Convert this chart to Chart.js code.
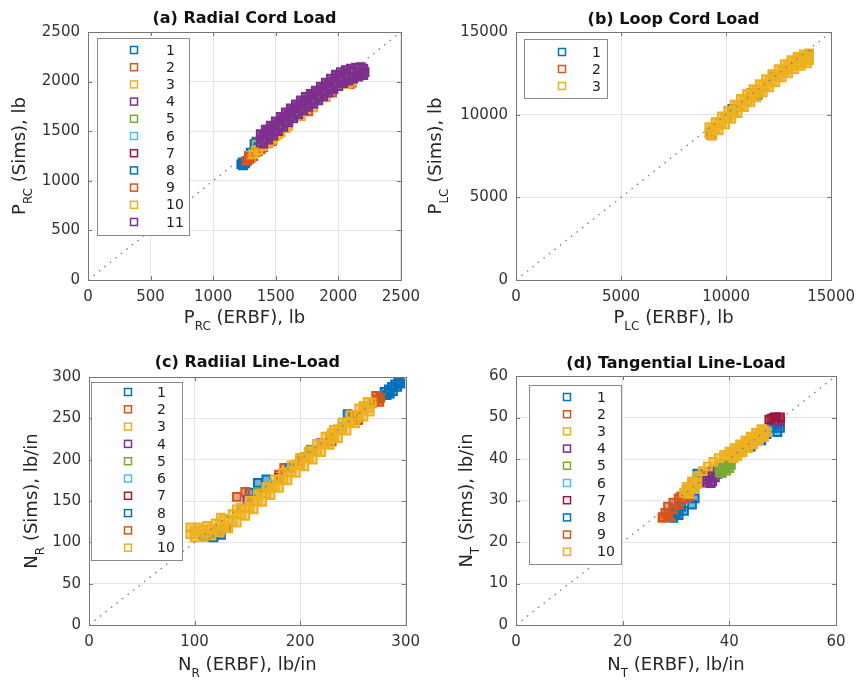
<!DOCTYPE html>
<html>
<head>
<meta charset="utf-8">
<script src="https://cdn.jsdelivr.net/npm/chart.js@4.4.0/dist/chart.umd.min.js"></script>
<style>
  body { margin: 0; background: #fff; }
  #wrap { position: relative; width: 863px; height: 682px; overflow: hidden; }
  canvas { position: absolute; }
</style>
</head>
<body>
<div id="wrap">
  <canvas id="cA" width="428" height="340" style="left:0;top:0"></canvas>
  <canvas id="cB" width="438" height="340" style="left:425px;top:0"></canvas>
  <canvas id="cC" width="428" height="342" style="left:0;top:340px"></canvas>
  <canvas id="cD" width="438" height="342" style="left:425px;top:340px"></canvas>
</div>
<script>
// MATLAB default line colours
var colors = ["#0072BD", "#D95319", "#EDB120", "#7E2F8E", "#77AC30", "#4DBEEE", "#A2142F"];
var fills = ["rgba(0,114,189,0.55)", "rgba(217,83,25,0.55)", "rgba(237,177,32,0.55)", "rgba(126,47,142,0.55)",
             "rgba(119,172,48,0.55)", "rgba(77,190,238,0.55)", "rgba(162,20,47,0.55)"];

// axes: [min, max, step]
var rcAxis = [0, 2500, 500];
var lcAxis = [0, 15000, 5000];
var nrAxis = [0, 300, 50];
var nrXAxis = [0, 300, 100];
var ntAxis = [0, 60, 10];
var ntXAxis = [0, 60, 20];

// (a) Radial cord load, [ERBF, Sims]
var rc1 = [[1225,1165],[1240,1155],[1255,1175],[1235,1185],[1270,1200],[1300,1285],[1330,1370],[1345,1395],[1440,1515]];
var rc2 = [[1265,1200],[1285,1215],[1300,1230],[1320,1250],[1285,1250],[1340,1290],[1360,1300],[1400,1340],[1440,1380],[1470,1400],[2090,1975],[2110,1990]];
var rc3 = [[1300,1250],[1340,1300],[1350,1360],[1380,1330],[1420,1370],[1460,1410],[1500,1450],[1540,1490],[1580,1530],[2080,1985],[2110,2000]];
var rc4 = [[1400,1410],[1600,1630],[1800,1850],[2000,2060]];
var rc5 = [[1500,1510],[1700,1720],[1900,1940]];
var rc6 = [[1450,1470],[1650,1680],[1850,1890]];
var rc7 = [[1550,1580],[1750,1780],[2050,2070]];
var rc8 = [[1360,1340],[1480,1500],[1600,1610]];
var rc9 = [[1290,1240],[1380,1320],[1760,1700],[1950,1890]];
var rc10 = [[1320,1270],[1360,1310],[1400,1350],[1440,1385],[1480,1425],[1520,1470],[1600,1555],[1700,1650],[1800,1740],[1900,1840],[2060,1975]];
var rc11 = [
  [1380,1470],[1420,1515],[1460,1555],[1500,1600],[1540,1645],[1580,1690],[1620,1730],[1660,1770],[1700,1810],[1740,1845],[1780,1875],
  [1820,1910],[1860,1950],[1900,1990],[1940,2030],[1980,2070],[2020,2095],[2060,2115],[2100,2130],[2140,2140],[2180,2145],
  [1400,1455],[1440,1495],[1480,1540],[1520,1580],[1560,1630],[1600,1670],[1640,1710],[1680,1750],[1720,1790],[1760,1820],[1800,1855],
  [1840,1890],[1880,1930],[1920,1970],[1960,2005],[2000,2035],[2040,2060],[2080,2080],[2120,2100],[2160,2115],[2200,2130],
  [1380,1390],[1420,1435],[1460,1475],[1500,1520],[1540,1565],[1580,1610],[1620,1650],[1660,1690],[1700,1730],[1740,1765],[1780,1795],
  [1820,1830],[1860,1870],[1900,1910],[1940,1945],[1980,1980],[2020,2005],[2060,2030],[2100,2055],[2140,2070],[2180,2085],[2210,2095],
  [1400,1375],[1440,1415],[1480,1455],[1520,1500],[1560,1545],[1600,1590],[1640,1630],[1680,1670],[1720,1710],[1760,1745],[1800,1775],
  [1840,1810],[1880,1850],[1920,1890],[1960,1925],[2000,1955],[2040,1985],[2080,2010],[2120,2030],[2160,2050],[2200,2065]
];

// (b) Loop cord load
var lc1 = [[9250,8900],[10300,10350],[11500,11200],[12300,12300],[13950,13650]];
var lc2 = [[9300,8750],[10000,9800],[11200,11300],[12800,12700],[13600,13500]];
var lc3 = [
  [9200,9250],[9500,9550],[9800,9900],[10100,10250],[10400,10600],[10700,10950],[11000,11250],[11300,11550],[11600,11850],
  [11900,12150],[12200,12450],[12500,12750],[12800,13050],[13100,13300],[13400,13500],[13700,13650],[13950,13700],
  [9350,9200],[9650,9520],[9950,9880],[10250,10230],[10550,10580],[10850,10900],[11150,11200],[11450,11500],[11750,11800],
  [12050,12100],[12350,12400],[12650,12700],[12950,12980],[13250,13200],[13550,13380],[13850,13500],
  [9200,8850],[9500,9150],[9800,9500],[10100,9850],[10400,10200],[10700,10550],[11000,10850],[11300,11150],[11600,11450],
  [11900,11750],[12200,12050],[12500,12350],[12800,12650],[13100,12900],[13400,13100],[13700,13250],[13950,13300],
  [9350,8750],[9650,9050],[9950,9400],[10250,9750],[10550,10100],[10850,10450],[11150,10750],[11450,11050],[11750,11350],
  [12050,11650],[12350,11950],[12650,12250],[12950,12500],[13250,12750],[13550,12950],[13850,13100]
];

// (c) Radial line-load
var nr1 = [[280,282],[284,285],[287,288],[290,291],[293,294],[295,292],[292,288],[288,283],[285,280],[294,297],[282,278],
  [160,172],[168,176],[152,160],[110,107],[118,106],[125,109],[245,255]];
var nr2 = [[270,270],[273,273],[276,275],[272,277],[268,268],[275,270],[148,161],[140,155],[205,203],[230,222],[255,248],[185,190],[180,182]];
var nr3 = [[125,130],[140,140],[170,165],[200,200],[230,232],[260,265]];
var nr4 = [[150,150],[220,220]];
var nr5 = [[160,160],[210,212]];
var nr6 = [[170,170],[240,240]];
var nr7 = [[180,178],[250,252]];
var nr8 = [[120,112],[190,190]];
var nr9 = [[130,118],[200,198]];
var nr10 = [
  [96,118],[104,118],[112,120],[120,123],[128,128],[136,134],[144,142],[152,150],[160,158],[168,167],[176,176],
  [184,184],[192,193],[200,202],[208,210],[216,219],[224,228],[232,236],[240,245],[248,254],[256,262],[264,270],
  [100,114],[108,115],[116,117],[124,121],[132,127],[140,134],[148,142],[156,150],[164,159],[172,167],[180,176],
  [188,185],[196,194],[204,202],[212,210],[220,219],[228,228],[236,237],[244,245],[252,254],[260,262],[268,269],
  [96,110],[104,110],[112,112],[120,115],[128,119],[136,126],[144,134],[152,142],[160,150],[168,159],[176,168],
  [184,176],[192,185],[200,194],[208,202],[216,211],[224,220],[232,228],[240,237],[248,246],[256,254],[264,262],
  [100,106],[108,107],[116,108],[124,112],[132,117],[140,124],[148,132],[156,140],[164,149],[172,157],[180,166],
  [188,175],[196,184],[204,192],[212,200],[220,209],[228,218],[236,226],[244,235],[252,244],[260,252],[266,258]
];

// (d) Tangential line-load
var nt1 = [[29.5,25.8],[30.5,26.5],[31.5,27.5],[33,29],[33.5,30.5],[34,36.5],[48,47.5],[49,48.5],[49.5,47.5],[49,46.5],[48.5,49]];
var nt2 = [[27.5,25.8],[28,27],[28.5,28.5],[29.5,29.5],[30,28],[31,31],[32,32.5],[33,34],[30.5,30.5],[29,26]];
var nt3 = [[32,31],[33,33],[34,34]];
var nt4 = [[35.4,35],[35.8,34.3],[36.3,35.5],[36.8,34.6],[37.3,35.6],[37.8,36.4],[35.5,36.3],[36.2,36.8],[36.9,37.1],
  [37.5,37.2],[36.5,34.2],[35.2,35.8],[49,49.5],[48,49.8],[49.5,49],[48.8,50]];
var nt5 = [[38.2,36.8],[38.7,37.5],[39.2,38.2],[39.8,38.8],[40.3,38.6],[38.6,36.6],[39.4,37.2],[40,37.8],[38.1,37.9],[39,38.9]];
var nt6 = [[33.5,33],[41,41],[43,43.5]];
var nt7 = [[48.5,50],[47.5,49.5],[49.5,50]];
var nt8 = [[30,27],[31,28.5],[42,42.5],[44,43],[46,44.5],[47,46]];
var nt9 = [[27.5,26],[28.5,26.2],[29.5,28],[30.5,29],[31.5,30.5],[32.5,31],[33,33.5]];
var nt10 = [
  [32,33.3],[33,34.6],[34,35.8],[35,37.1],[36,38.2],[37,39.3],[38,40.2],[39,41],[40,41.8],[41,42.6],[42,43.5],[43,44.5],
  [44,45.4],[45,46.3],[46,47.2],
  [31.5,31.9],[32.5,33.2],[33.5,34.4],[39.5,40.6],[40.5,41.4],
  [41.5,42.3],[42.5,43.2],[43.5,44.2],[44.5,45.1],[45.5,46],[46.5,46.9],
  [32,31.8],[33,33],[34,34.2],[40.8,40.2],[41,41],[42,41.9],[43,42.9],
  [44,43.8],[45,44.7],[46,45.6],[47,46.5],
  [32.5,31.6],[33.5,32.8],[41.5,40.7],[42.5,41.6],[43.5,42.6],[44.5,43.5],[45.5,44.4],[46.5,45.3]
];

var names11 = ["1","2","3","4","5","6","7","8","9","10","11"];

function drawLabel(ctx, parts, cx, cy, rotate) {
  ctx.save();
  ctx.translate(cx, cy);
  if (rotate) ctx.rotate(-Math.PI / 2);
  var big = '18px "DejaVu Sans"', small = '12px "DejaVu Sans"';
  ctx.font = big;
  var w1 = ctx.measureText(parts[0]).width;
  var w3 = ctx.measureText(parts[2]).width;
  ctx.font = small;
  var w2 = ctx.measureText(parts[1]).width;
  var x = -(w1 + w2 + w3) / 2;
  ctx.fillStyle = "#262626";
  ctx.textAlign = "left";
  ctx.textBaseline = "alphabetic";
  ctx.font = big; ctx.fillText(parts[0], x, 0); x += w1;
  ctx.font = small; ctx.fillText(parts[1], x, 7); x += w2;
  ctx.font = big; ctx.fillText(parts[2], x, 0);
  ctx.restore();
}

// axes box, inward ticks, title, labels, legend
var panelPlugin = {
  id: "panel",
  afterDatasetsDraw: function (chart, args, o) {
    var ctx = chart.ctx, a = chart.chartArea;
    ctx.save();
    ctx.strokeStyle = "#767676";
    ctx.lineWidth = 1;
    ctx.strokeRect(Math.round(a.left) + 0.5, Math.round(a.top) + 0.5, Math.round(a.right - a.left), Math.round(a.bottom - a.top));
    ctx.beginPath();
    chart.scales.x.ticks.forEach(function (t) {
      var px = Math.round(chart.scales.x.getPixelForValue(t.value)) + 0.5;
      ctx.moveTo(px, a.bottom); ctx.lineTo(px, a.bottom - 4);
      ctx.moveTo(px, a.top); ctx.lineTo(px, a.top + 4);
    });
    chart.scales.y.ticks.forEach(function (t) {
      var py = Math.round(chart.scales.y.getPixelForValue(t.value)) + 0.5;
      ctx.moveTo(a.left, py); ctx.lineTo(a.left + 4, py);
      ctx.moveTo(a.right, py); ctx.lineTo(a.right - 4, py);
    });
    ctx.stroke();
    ctx.restore();
  },
  afterDraw: function (chart, args, o) {
    var ctx = chart.ctx, a = chart.chartArea;
    var cx = (a.left + a.right) / 2;
    ctx.save();
    ctx.fillStyle = "#111";
    ctx.font = 'bold 16px "DejaVu Sans"';
    ctx.textAlign = "center";
    ctx.textBaseline = "middle";
    ctx.fillText(o.title, cx, o.titleY);
    ctx.restore();
    drawLabel(ctx, o.xLabel, cx, o.xLabelY, false);
    drawLabel(ctx, o.yLabel, o.yLabelX, (a.top + a.bottom) / 2, true);

    // legend box
    var L = o.legend;
    ctx.save();
    ctx.fillStyle = "#fff";
    ctx.fillRect(L.x, L.y, L.w, L.h);
    ctx.strokeStyle = "#8a8a8a";
    ctx.lineWidth = 1;
    ctx.strokeRect(L.x + 0.5, L.y + 0.5, L.w, L.h);
    ctx.font = '14px "DejaVu Sans"';
    ctx.textAlign = "left";
    ctx.textBaseline = "middle";
    chart.data.datasets.forEach(function (ds, i) {
      if (ds.label === "diag") return;
      var y = L.y + L.y0 + i * L.dy;
      ctx.strokeStyle = ds.borderColor;
      ctx.lineWidth = 1.5;
      ctx.strokeRect(L.x + L.mx - 3.5, y - 3.5, 7, 7);
      ctx.fillStyle = "#222";
      ctx.fillText(ds.label, L.x + L.tx, y + 1);
    });
    ctx.restore();
  }
};

function makePanel(id, cfg) {
  var datasets = cfg.series.map(function (pts, i) {
    return {
      label: cfg.names[i],
      data: pts.map(function (p) { return { x: p[0], y: p[1] }; }),
      pointStyle: "rect",
      pointRadius: 5.5,
      borderWidth: 2,
      borderColor: colors[i % 7],
      backgroundColor: fills[i % 7],
      order: 100 - i
    };
  });
  datasets.push({
    label: "diag",
    data: [{ x: cfg.xAxis[0], y: cfg.xAxis[0] }, { x: cfg.xAxis[1], y: cfg.xAxis[1] }],
    showLine: true,
    pointRadius: 0,
    borderColor: "#7a7a7a",
    borderWidth: 1.3,
    borderDash: [1.5, 5.5],
    order: 0
  });

  var cv = document.getElementById(id);
  var W = cv.width, H = cv.height, A = cfg.area;
  var tickFont = { family: "DejaVu Sans", size: 15 };
  var plain = function (v) { return String(v); };

  return new Chart(cv, {
    type: "scatter",
    data: { datasets: datasets },
    options: {
      responsive: false,
      animation: false,
      events: [],
      layout: { padding: { left: 0, top: A.t, right: W - A.r, bottom: 0 } },
      scales: {
        x: {
          type: "linear",
          min: cfg.xAxis[0], max: cfg.xAxis[1],
          afterFit: function (s) { s.height = H - A.b; },
          ticks: { stepSize: cfg.xAxis[2], autoSkip: false, maxRotation: 0, padding: 8, color: "#333", font: tickFont, callback: plain },
          grid: { color: "#e4e4e4", drawTicks: false },
          border: { display: false }
        },
        y: {
          type: "linear",
          min: cfg.yAxis[0], max: cfg.yAxis[1],
          afterFit: function (s) { s.width = A.l; },
          ticks: { stepSize: cfg.yAxis[2], autoSkip: false, padding: 8, color: "#333", font: tickFont, callback: plain },
          grid: { color: "#e4e4e4", drawTicks: false },
          border: { display: false }
        }
      },
      plugins: {
        legend: { display: false },
        tooltip: { enabled: false },
        panel: cfg.text
      }
    },
    plugins: [panelPlugin]
  });
}

makePanel("cA", {
  series: [rc1, rc2, rc3, rc4, rc5, rc6, rc7, rc8, rc9, rc10, rc11],
  names: names11,
  xAxis: rcAxis, yAxis: rcAxis,
  area: { l: 88, t: 32, r: 408, b: 280 },
  text: {
    title: "(a) Radial Cord Load", titleY: 19,
    xLabel: ["P", "RC", " (ERBF), lb"], xLabelY: 323,
    yLabel: ["P", "RC", " (Sims), lb"], yLabelX: 25,
    legend: { x: 97, y: 38, w: 92, h: 197, mx: 37, tx: 69, y0: 12, dy: 17.2 }
  }
});

makePanel("cB", {
  series: [lc1, lc2, lc3],
  names: names11.slice(0, 3),
  xAxis: lcAxis, yAxis: lcAxis,
  area: { l: 91, t: 32, r: 411, b: 280 },
  text: {
    title: "(b) Loop Cord Load", titleY: 20,
    xLabel: ["P", "LC", " (ERBF), lb"], xLabelY: 323,
    yLabel: ["P", "LC", " (Sims), lb"], yLabelX: 16,
    legend: { x: 99, y: 39, w: 83, h: 59, mx: 38, tx: 68, y0: 13, dy: 17 }
  }
});

makePanel("cC", {
  series: [nr1, nr2, nr3, nr4, nr5, nr6, nr7, nr8, nr9, nr10],
  names: names11.slice(0, 10),
  xAxis: nrXAxis, yAxis: nrAxis,
  area: { l: 89, t: 37, r: 409, b: 285 },
  text: {
    title: "(c) Radiial Line-Load", titleY: 23,
    xLabel: ["N", "R", " (ERBF), lb/in"], xLabelY: 330,
    yLabel: ["N", "R", " (Sims), lb/in"], yLabelX: 37,
    legend: { x: 91, y: 42, w: 91, h: 178, mx: 37, tx: 66, y0: 10, dy: 17.3 }
  }
});

makePanel("cD", {
  series: [nt1, nt2, nt3, nt4, nt5, nt6, nt7, nt8, nt9, nt10],
  names: names11.slice(0, 10),
  xAxis: ntXAxis, yAxis: ntAxis,
  area: { l: 91, t: 36, r: 411, b: 285 },
  text: {
    title: "(d) Tangential Line-Load", titleY: 24,
    xLabel: ["N", "T", " (ERBF), lb/in"], xLabelY: 330,
    yLabel: ["N", "T", " (Sims), lb/in"], yLabelX: 47,
    legend: { x: 104, y: 45, w: 92, h: 179, mx: 38, tx: 68, y0: 12, dy: 17.2 }
  }
});
</script>
</body>
</html>
